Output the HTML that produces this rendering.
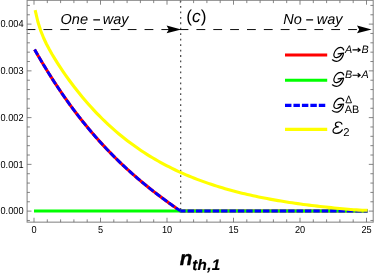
<!DOCTYPE html>
<html><head><meta charset="utf-8"><style>
html,body{margin:0;padding:0;background:#fff;}
svg{display:block;font-family:"Liberation Sans",sans-serif;will-change:transform;text-rendering:geometricPrecision;}
</style></head><body>
<svg width="374" height="273" viewBox="0 0 374 273">
<rect width="374" height="273" fill="#fff"/>
<!-- dotted vertical -->
<path d="M180.7,0.5 V210" stroke="#333" stroke-width="1.1" stroke-dasharray="1.8 3.66" fill="none"/>
<!-- dashed arrows -->
<path d="M26.6,29.55 H170" stroke="#000" stroke-width="0.95" stroke-dasharray="8.8 8.05" fill="none"/>
<path d="M179.6,29.55 H360" stroke="#000" stroke-width="0.95" stroke-dasharray="8.8 8.05" fill="none"/>
<path d="M181.2,29.4 L166.6,25.5 L168.8,29.4 L166.6,33.3 Z" fill="#000"/>
<path d="M371.6,29.4 L357,25.5 L359.2,29.4 L357,33.3 Z" fill="#000"/>
<!-- curves -->
<path d="M34.60,49.48 L36.44,52.72 L38.29,55.92 L40.13,59.08 L41.98,62.19 L43.82,65.27 L45.67,68.31 L47.51,71.30 L49.35,74.26 L51.20,77.18 L53.04,80.05 L54.89,82.90 L56.73,85.70 L58.58,88.47 L60.42,91.20 L62.26,93.89 L64.11,96.55 L65.95,99.18 L67.80,101.76 L69.64,104.32 L71.49,106.84 L73.33,109.33 L75.17,111.78 L77.02,114.20 L78.86,116.59 L80.71,118.95 L82.55,121.27 L84.40,123.57 L86.24,125.83 L88.08,128.07 L89.93,130.27 L91.77,132.45 L93.62,134.59 L95.46,136.71 L97.31,138.80 L99.15,140.86 L100.99,142.90 L102.84,144.91 L104.68,146.89 L106.53,148.85 L108.37,150.78 L110.22,152.69 L112.06,154.57 L113.91,156.43 L115.75,158.26 L117.59,160.08 L119.44,161.87 L121.28,163.63 L123.13,165.38 L124.97,167.10 L126.82,168.80 L128.66,170.48 L130.50,172.15 L132.35,173.79 L134.19,175.41 L136.04,177.01 L137.88,178.60 L139.73,180.17 L141.57,181.72 L143.41,183.25 L145.26,184.77 L147.10,186.27 L148.95,187.75 L150.79,189.22 L152.64,190.67 L154.48,192.11 L156.32,193.54 L158.17,194.95 L160.01,196.35 L161.86,197.73 L163.70,199.10 L165.55,200.47 L167.39,201.81 L169.23,203.15 L171.08,204.48 L172.92,205.80 L174.77,207.11 L176.61,208.40 L178.46,209.69 L180.30,210.97 L367.6,211" stroke="#ff0000" stroke-width="3.1" fill="none" stroke-linejoin="round"/>
<path d="M34,211 H367.6" stroke="#00ff00" stroke-width="3.1" fill="none"/>
<path d="M34.60,49.48 L36.44,52.72 L38.29,55.92 L40.13,59.08 L41.98,62.19 L43.82,65.27 L45.67,68.31 L47.51,71.30 L49.35,74.26 L51.20,77.18 L53.04,80.05 L54.89,82.90 L56.73,85.70 L58.58,88.47 L60.42,91.20 L62.26,93.89 L64.11,96.55 L65.95,99.18 L67.80,101.76 L69.64,104.32 L71.49,106.84 L73.33,109.33 L75.17,111.78 L77.02,114.20 L78.86,116.59 L80.71,118.95 L82.55,121.27 L84.40,123.57 L86.24,125.83 L88.08,128.07 L89.93,130.27 L91.77,132.45 L93.62,134.59 L95.46,136.71 L97.31,138.80 L99.15,140.86 L100.99,142.90 L102.84,144.91 L104.68,146.89 L106.53,148.85 L108.37,150.78 L110.22,152.69 L112.06,154.57 L113.91,156.43 L115.75,158.26 L117.59,160.08 L119.44,161.87 L121.28,163.63 L123.13,165.38 L124.97,167.10 L126.82,168.80 L128.66,170.48 L130.50,172.15 L132.35,173.79 L134.19,175.41 L136.04,177.01 L137.88,178.60 L139.73,180.17 L141.57,181.72 L143.41,183.25 L145.26,184.77 L147.10,186.27 L148.95,187.75 L150.79,189.22 L152.64,190.67 L154.48,192.11 L156.32,193.54 L158.17,194.95 L160.01,196.35 L161.86,197.73 L163.70,199.10 L165.55,200.47 L167.39,201.81 L169.23,203.15 L171.08,204.48 L172.92,205.80 L174.77,207.11 L176.61,208.40 L178.46,209.69 L180.30,210.97" stroke="#0000ff" stroke-width="2.8" fill="none" stroke-dasharray="6.571 2.0" stroke-dashoffset="0.22"/>
<path d="M180.3,211 H367.6" stroke="#0000ff" stroke-width="2.8" fill="none" stroke-dasharray="6.385 2.0" stroke-dashoffset="1.115"/>
<path d="M35.15,10.03 L37.94,22.00 L40.74,30.79 L43.53,37.77 L46.32,43.72 L49.12,49.05 L51.91,53.98 L54.71,58.64 L57.50,63.09 L60.29,67.38 L63.09,71.54 L65.88,75.57 L68.67,79.48 L71.47,83.28 L74.26,86.97 L77.06,90.56 L79.85,94.05 L82.64,97.45 L85.44,100.75 L88.23,103.96 L91.02,107.09 L93.82,110.13 L96.61,113.08 L99.41,115.95 L102.20,118.75 L104.99,121.47 L107.79,124.11 L110.58,126.68 L113.37,129.18 L116.17,131.61 L118.96,133.98 L121.75,136.28 L124.55,138.51 L127.34,140.69 L130.14,142.80 L132.93,144.86 L135.72,146.86 L138.52,148.81 L141.31,150.70 L144.10,152.54 L146.90,154.33 L149.69,156.07 L152.49,157.77 L155.28,159.41 L158.07,161.02 L160.87,162.57 L163.66,164.09 L166.45,165.56 L169.25,166.99 L172.04,168.39 L174.83,169.74 L177.63,171.06 L180.42,172.34 L183.22,173.59 L186.01,174.80 L188.80,175.98 L191.60,177.13 L194.39,178.24 L197.18,179.33 L199.98,180.38 L202.77,181.41 L205.57,182.41 L208.36,183.38 L211.15,184.32 L213.95,185.24 L216.74,186.13 L219.53,187.00 L222.33,187.85 L225.12,188.67 L227.92,189.46 L230.71,190.24 L233.50,191.00 L236.30,191.73 L239.09,192.45 L241.88,193.14 L244.68,193.82 L247.47,194.47 L250.26,195.11 L253.06,195.74 L255.85,196.34 L258.65,196.93 L261.44,197.50 L264.23,198.06 L267.03,198.60 L269.82,199.12 L272.61,199.64 L275.41,200.13 L278.20,200.62 L281.00,201.09 L283.79,201.55 L286.58,201.99 L289.38,202.42 L292.17,202.84 L294.96,203.25 L297.76,203.65 L300.55,204.04 L303.34,204.42 L306.14,204.78 L308.93,205.14 L311.73,205.49 L314.52,205.82 L317.31,206.15 L320.11,206.47 L322.90,206.78 L325.69,207.08 L328.49,207.37 L331.28,207.66 L334.08,207.94 L336.87,208.21 L339.66,208.47 L342.46,208.72 L345.25,208.97 L348.04,209.21 L350.84,209.45 L353.63,209.68 L356.43,209.90 L359.22,210.11 L362.01,210.30 L364.81,210.30 L367.60,210.30" stroke="#ffff00" stroke-width="3.1" fill="none" stroke-linejoin="round"/>
<!-- frame -->
<rect x="27.1" y="0.3" width="346.09999999999997" height="221.85" fill="none" stroke="#858585" stroke-width="1.05"/>
<path d="M34.00,222.15 v-4.4 M34.00,0.3 v4.4 M47.30,222.15 v-2.8 M47.30,0.3 v2.8 M60.60,222.15 v-2.8 M60.60,0.3 v2.8 M73.90,222.15 v-2.8 M73.90,0.3 v2.8 M87.20,222.15 v-2.8 M87.20,0.3 v2.8 M100.50,222.15 v-4.4 M100.50,0.3 v4.4 M113.80,222.15 v-2.8 M113.80,0.3 v2.8 M127.10,222.15 v-2.8 M127.10,0.3 v2.8 M140.40,222.15 v-2.8 M140.40,0.3 v2.8 M153.70,222.15 v-2.8 M153.70,0.3 v2.8 M167.00,222.15 v-4.4 M167.00,0.3 v4.4 M180.30,222.15 v-2.8 M180.30,0.3 v2.8 M193.60,222.15 v-2.8 M193.60,0.3 v2.8 M206.90,222.15 v-2.8 M206.90,0.3 v2.8 M220.20,222.15 v-2.8 M220.20,0.3 v2.8 M233.50,222.15 v-4.4 M233.50,0.3 v4.4 M246.80,222.15 v-2.8 M246.80,0.3 v2.8 M260.10,222.15 v-2.8 M260.10,0.3 v2.8 M273.40,222.15 v-2.8 M273.40,0.3 v2.8 M286.70,222.15 v-2.8 M286.70,0.3 v2.8 M300.00,222.15 v-4.4 M300.00,0.3 v4.4 M313.30,222.15 v-2.8 M313.30,0.3 v2.8 M326.60,222.15 v-2.8 M326.60,0.3 v2.8 M339.90,222.15 v-2.8 M339.90,0.3 v2.8 M353.20,222.15 v-2.8 M353.20,0.3 v2.8 M366.50,222.15 v-4.4 M366.50,0.3 v4.4 M27.1,220.47 h2.8 M373.2,220.47 h-2.8 M27.1,211.12 h4.4 M373.2,211.12 h-4.4 M27.1,201.77 h2.8 M373.2,201.77 h-2.8 M27.1,192.42 h2.8 M373.2,192.42 h-2.8 M27.1,183.07 h2.8 M373.2,183.07 h-2.8 M27.1,173.72 h2.8 M373.2,173.72 h-2.8 M27.1,164.37 h4.4 M373.2,164.37 h-4.4 M27.1,155.02 h2.8 M373.2,155.02 h-2.8 M27.1,145.67 h2.8 M373.2,145.67 h-2.8 M27.1,136.32 h2.8 M373.2,136.32 h-2.8 M27.1,126.97 h2.8 M373.2,126.97 h-2.8 M27.1,117.62 h4.4 M373.2,117.62 h-4.4 M27.1,108.27 h2.8 M373.2,108.27 h-2.8 M27.1,98.92 h2.8 M373.2,98.92 h-2.8 M27.1,89.57 h2.8 M373.2,89.57 h-2.8 M27.1,80.22 h2.8 M373.2,80.22 h-2.8 M27.1,70.87 h4.4 M373.2,70.87 h-4.4 M27.1,61.52 h2.8 M373.2,61.52 h-2.8 M27.1,52.17 h2.8 M373.2,52.17 h-2.8 M27.1,42.82 h2.8 M373.2,42.82 h-2.8 M27.1,33.47 h2.8 M373.2,33.47 h-2.8 M27.1,24.12 h4.4 M373.2,24.12 h-4.4 M27.1,14.77 h2.8 M373.2,14.77 h-2.8 M27.1,5.42 h2.8 M373.2,5.42 h-2.8" stroke="#666" stroke-width="0.8" fill="none"/>
<!-- texts top -->
<g font-style="italic" font-size="14.5" fill="#000">
<text x="60.6" y="24.3">One</text>
<text x="102.7" y="24.3">way</text>
<text x="283.3" y="24.3">No</text>
<text x="316.7" y="24.3">way</text>
</g>
<path d="M93.3,19.9 H100 M306.2,19.9 H313.1" stroke="#000" stroke-width="1.1"/>
<text x="186.3" y="22.0" font-size="17.3" fill="#000">(<tspan font-style="italic">c</tspan>)</text>
<!-- axis labels -->
<g font-size="10.1" fill="#000"><text transform="translate(23.5,214.37) scale(0.91,1)" text-anchor="end">0.000</text><text transform="translate(23.5,167.62) scale(0.91,1)" text-anchor="end">0.001</text><text transform="translate(23.5,120.87) scale(0.91,1)" text-anchor="end">0.002</text><text transform="translate(23.5,74.12) scale(0.91,1)" text-anchor="end">0.003</text><text transform="translate(23.5,27.37) scale(0.91,1)" text-anchor="end">0.004</text><text transform="translate(34.00,232.7) scale(0.91,1)" text-anchor="middle">0</text><text transform="translate(100.50,232.7) scale(0.91,1)" text-anchor="middle">5</text><text transform="translate(167.00,232.7) scale(0.91,1)" text-anchor="middle">10</text><text transform="translate(233.50,232.7) scale(0.91,1)" text-anchor="middle">15</text><text transform="translate(300.00,232.7) scale(0.91,1)" text-anchor="middle">20</text><text transform="translate(366.50,232.7) scale(0.91,1)" text-anchor="middle">25</text></g>
<!-- legend -->
<path d="M285.0,55.0 H327.2" stroke="#ff0000" stroke-width="3.1"/>
<path d="M285.0,80.3 H327.2" stroke="#00ff00" stroke-width="3.1"/>
<path d="M285.0,105.4 H327.2" stroke="#0000ff" stroke-width="3.1" stroke-dasharray="6.45 2.0"/>
<path d="M285.0,129.4 H327.2" stroke="#ffff00" stroke-width="3.1"/>
<path transform="translate(332.4,48.0)" d="M11.3,2.0 C10.8,0.4 9.6,-0.6 8.1,-0.6 C5.2,-0.6 2.2,2.6 1.5,6.2 C1.1,8.5 2.4,9.8 4.4,9.7 C6.5,9.5 8.3,7.8 9.4,5.8 M5.7,5.8 L11.2,5.2 C10.6,8.6 8.8,11.6 6.4,12.8 C4.1,13.9 1.6,13.2 0.0,11.8" fill="none" stroke="#000" stroke-width="1.2" stroke-linecap="round" stroke-linejoin="round"/>
<path transform="translate(332.4,73.0)" d="M11.3,2.0 C10.8,0.4 9.6,-0.6 8.1,-0.6 C5.2,-0.6 2.2,2.6 1.5,6.2 C1.1,8.5 2.4,9.8 4.4,9.7 C6.5,9.5 8.3,7.8 9.4,5.8 M5.7,5.8 L11.2,5.2 C10.6,8.6 8.8,11.6 6.4,12.8 C4.1,13.9 1.6,13.2 0.0,11.8" fill="none" stroke="#000" stroke-width="1.2" stroke-linecap="round" stroke-linejoin="round"/>
<path transform="translate(332.4,98.8)" d="M11.3,2.0 C10.8,0.4 9.6,-0.6 8.1,-0.6 C5.2,-0.6 2.2,2.6 1.5,6.2 C1.1,8.5 2.4,9.8 4.4,9.7 C6.5,9.5 8.3,7.8 9.4,5.8 M5.7,5.8 L11.2,5.2 C10.6,8.6 8.8,11.6 6.4,12.8 C4.1,13.9 1.6,13.2 0.0,11.8" fill="none" stroke="#000" stroke-width="1.2" stroke-linecap="round" stroke-linejoin="round"/>
<path transform="translate(332.2,120.8)" d="M9.7,3.4 C9.4,2.0 8.1,1.2 6.5,1.2 C4.6,1.2 3.2,2.3 3.2,3.6 C3.2,5.0 4.4,5.9 6.2,6.0 C3.6,6.2 0.9,7.8 0.8,10.0 C0.7,11.8 2.3,12.6 4.4,12.5 C6.8,12.4 9.0,11.1 10.1,9.1" fill="none" stroke="#000" stroke-width="1.2" stroke-linecap="round" stroke-linejoin="round"/>
<g font-size="10.8" fill="#000">
<text x="345.0" y="52.8" font-style="italic">A</text>
<text x="361.6" y="52.8" font-style="italic">B</text>
<text x="345.0" y="78.2" font-style="italic">B</text>
<text x="361.6" y="78.2" font-style="italic">A</text>
<text x="344.8" y="113.0">AB</text>
<text x="343.3" y="135.5" font-size="11.3">2</text>
</g>
<path d="M352.5,49.9 H360.0 M357.7,47.9 L360.2,49.9 L357.7,51.9 M352.5,75.3 H360.0 M357.7,73.3 L360.2,75.3 L357.7,77.3" stroke="#000" stroke-width="1.1" fill="none"/>
<path d="M345.9,102.8 L348.7,95.8 L351.5,102.8 Z" stroke="#000" stroke-width="0.9" fill="none" stroke-linejoin="miter"/>
<!-- x label -->
<text x="179.7" y="265.1" font-size="20.5" font-weight="bold" font-style="italic" fill="#000" stroke="#000" stroke-width="0.35">n</text>
<text x="192.2" y="269.5" font-size="15.2" font-weight="bold" font-style="italic" fill="#000" letter-spacing="0.35" stroke="#000" stroke-width="0.2">th,1</text>
</svg>
</body></html>
